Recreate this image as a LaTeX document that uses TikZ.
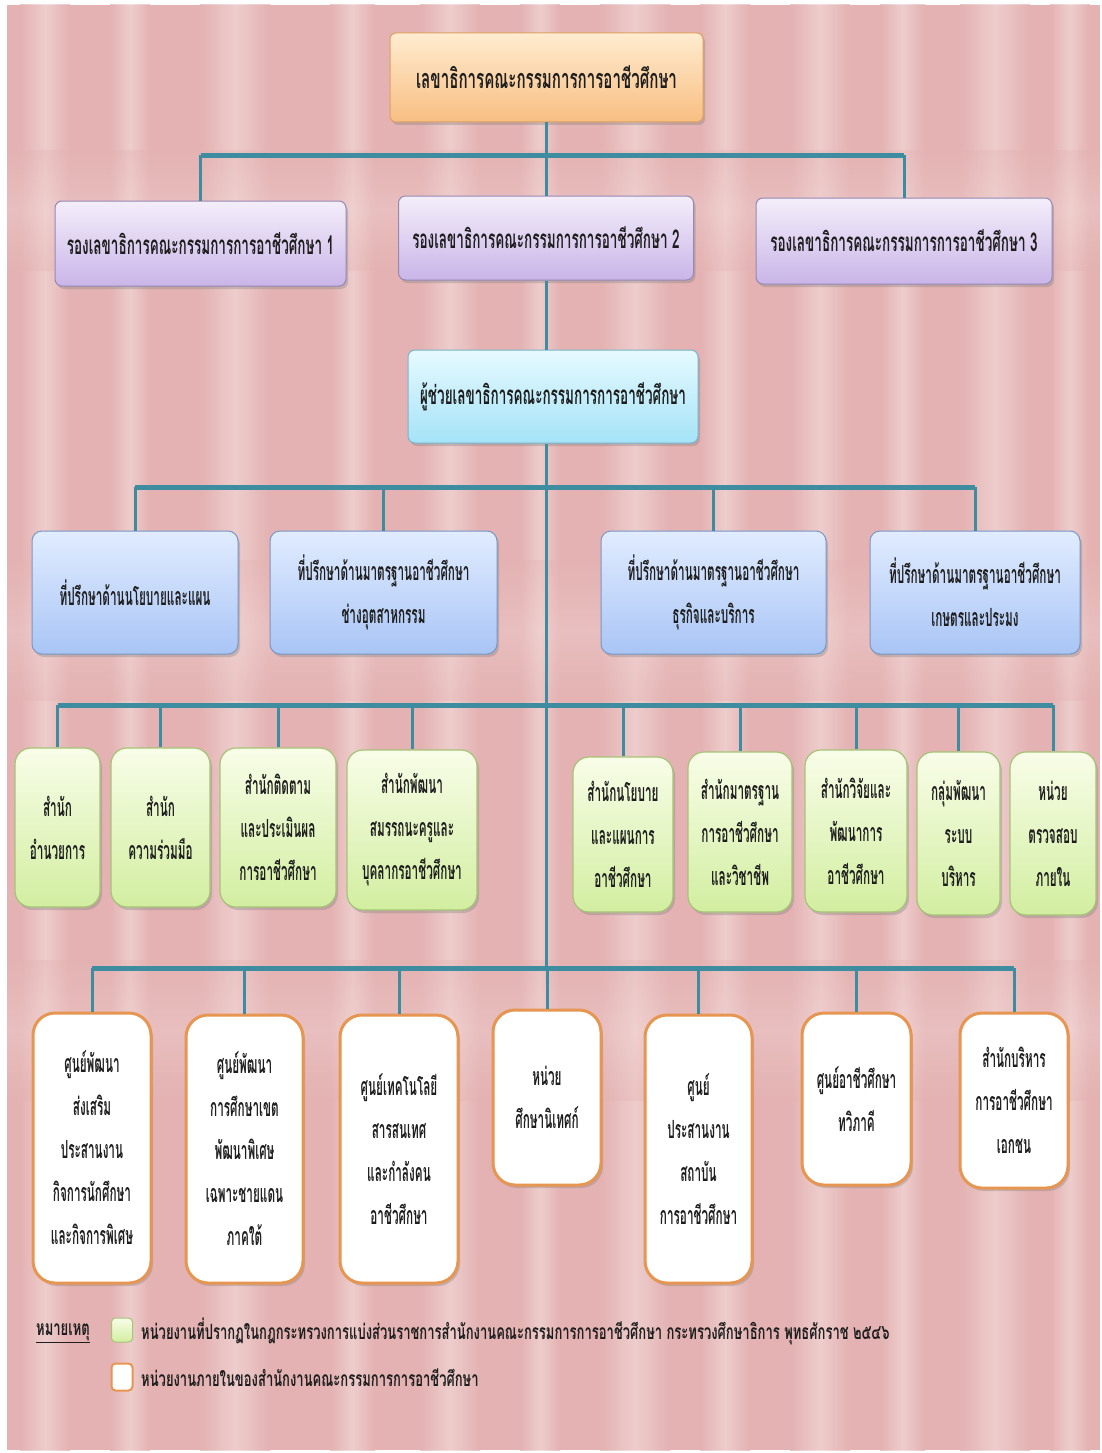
\documentclass[tikz,border=0pt]{standalone}
\usepackage{fontspec}
\newfontfamily\thaiT[Script=Thai,FakeStretch=0.56]{Loma}
\newfontfamily\thaiB[Script=Thai,FakeStretch=0.52]{Loma}
\newfontfamily\thaiD[Script=Thai,FakeStretch=0.47]{Loma}
\newfontfamily\thaiL[Script=Thai,FakeStretch=0.62]{Loma}
\usetikzlibrary{shadows}
\definecolor{bgpink}{RGB}{228,178,178}
\definecolor{bglight}{RGB}{242,214,214}
\definecolor{teal}{RGB}{62,140,160}
\definecolor{orT}{RGB}{255,236,208}
\definecolor{orB}{RGB}{248,190,130}
\definecolor{orD}{RGB}{222,160,96}
\definecolor{puT}{RGB}{244,238,250}
\definecolor{puB}{RGB}{201,181,232}
\definecolor{puD}{RGB}{150,136,180}
\definecolor{cyT}{RGB}{230,250,255}
\definecolor{cyB}{RGB}{165,227,247}
\definecolor{cyD}{RGB}{120,180,206}
\definecolor{blT}{RGB}{225,236,255}
\definecolor{blB}{RGB}{169,197,245}
\definecolor{blD}{RGB}{120,150,200}
\definecolor{grT}{RGB}{248,253,232}
\definecolor{grB}{RGB}{210,238,160}
\definecolor{grD}{RGB}{165,196,118}
\definecolor{fOr}{RGB}{230,150,80}
\definecolor{txt}{RGB}{30,30,30}
\tikzset{
  box/.style={draw, align=center, inner sep=0pt, text=txt,
    font=\thaiD\bfseries\fontsize{25}{43}\selectfont,
    drop shadow={opacity=0.35,shadow xshift=2pt,shadow yshift=-3pt}},
  topbox/.style={box, rounded corners=6pt, top color=orT, bottom color=orB, draw=orD, line width=1pt,
    font=\thaiT\bfseries\fontsize{27}{43}\selectfont},
  pubox/.style={box, rounded corners=7pt, top color=puT, bottom color=puB, draw=puD, line width=1pt,
    font=\thaiB\bfseries\fontsize{26}{43}\selectfont},
  cybox/.style={box, rounded corners=7pt, top color=cyT, bottom color=cyB, draw=cyD, line width=1pt,
    font=\thaiB\bfseries\fontsize{26}{43}\selectfont},
  blbox/.style={box, rounded corners=10pt, top color=blT, bottom color=blB, draw=blD, line width=1pt},
  grbox/.style={box, rounded corners=16pt, top color=grT, bottom color=grB, draw=grD, line width=1.2pt},
  whbox/.style={box, rounded corners=22pt, fill=white, draw=fOr, line width=3pt},
  bus/.style={draw=teal, line width=5pt},
  drop/.style={draw=teal, line width=3pt},
  legtxt/.style={anchor=west, inner sep=0pt, text=txt, font=\thaiL\bfseries\fontsize{21}{24}\selectfont}
}
\begin{document}
\begin{tikzpicture}[x=1pt,y=-1pt]
\useasboundingbox (0,0) rectangle (1102,1453);
\fill[white] (0,0) rectangle (1102,1453);
\fill[bgpink] (7,5) rectangle (1100,1450);
\foreach \x/\w in {20/50,110/40,200/70,330/45,420/60,520/40,600/70,700/50,790/60,880/45,960/70,1050/40}{
  \shade[left color=bgpink, right color=bgpink, middle color=bglight, opacity=0.75] (\x,5) rectangle (\x+\w,1450);
}
\foreach \y/\h in {150/120,560/140,960/140}{
  \shade[top color=bgpink, bottom color=bgpink, middle color=bglight, opacity=0.35] (7,\y) rectangle (1100,\y+\h);
}

% nodes
\node[topbox, minimum width=313pt, minimum height=89pt] (top) at (546.5,77.5) {เลขาธิการคณะกรรมการการอาชีวศึกษา};

\node[pubox, minimum width=291pt, minimum height=85pt] (b1) at (200.5,243.5) {รองเลขาธิการคณะกรรมการการอาชีวศึกษา 1};
\node[pubox, minimum width=295pt, minimum height=84pt] (b2) at (546,238) {รองเลขาธิการคณะกรรมการการอาชีวศึกษา 2};
\node[pubox, minimum width=296pt, minimum height=86pt] (b3) at (904,241) {รองเลขาธิการคณะกรรมการการอาชีวศึกษา 3};

\node[cybox, minimum width=290pt, minimum height=93pt] (c) at (553,396.5) {ผู้ช่วยเลขาธิการคณะกรรมการการอาชีวศึกษา};

\node[blbox, minimum width=206pt, minimum height=123pt] (d1) at (135,592.5) {ที่ปรึกษาด้านนโยบายและแผน};
\node[blbox, minimum width=227pt, minimum height=123pt] (d2) at (383.5,592.5) {ที่ปรึกษาด้านมาตรฐานอาชีวศึกษา\\ช่างอุตสาหกรรม};
\node[blbox, minimum width=225pt, minimum height=123pt] (d3) at (713.5,592.5) {ที่ปรึกษาด้านมาตรฐานอาชีวศึกษา\\ธุรกิจและบริการ};
\node[blbox, minimum width=210pt, minimum height=123pt] (d4) at (975,592.5) {ที่ปรึกษาด้านมาตรฐานอาชีวศึกษา\\เกษตรและประมง};

\node[grbox, minimum width=85pt, minimum height=159pt] (e1) at (57.5,827.5) {สำนัก\\อำนวยการ};
\node[grbox, minimum width=99pt, minimum height=159pt] (e2) at (160.5,827.5) {สำนัก\\ความร่วมมือ};
\node[grbox, minimum width=116pt, minimum height=159pt] (e3) at (278,827.5) {สำนักติดตาม\\และประเมินผล\\การอาชีวศึกษา};
\node[grbox, minimum width=130pt, minimum height=160pt] (e4) at (412,830) {สำนักพัฒนา\\สมรรถนะครูและ\\บุคลากรอาชีวศึกษา};
\node[grbox, minimum width=100pt, minimum height=155pt] (e5) at (623,834.5) {สำนักนโยบาย\\และแผนการ\\อาชีวศึกษา};
\node[grbox, minimum width=104pt, minimum height=160pt] (e6) at (740,832) {สำนักมาตรฐาน\\การอาชีวศึกษา\\และวิชาชีพ};
\node[grbox, minimum width=102pt, minimum height=162pt] (e7) at (856,831) {สำนักวิจัยและ\\พัฒนาการ\\อาชีวศึกษา};
\node[grbox, minimum width=83pt, minimum height=163pt] (e8) at (958.5,833.5) {กลุ่มพัฒนา\\ระบบ\\บริหาร};
\node[grbox, minimum width=86pt, minimum height=163pt] (e9) at (1053,833.5) {หน่วย\\ตรวจสอบ\\ภายใน};

\node[whbox, minimum width=118pt, minimum height=270pt] (f1) at (92,1148) {ศูนย์พัฒนา\\ส่งเสริม\\ประสานงาน\\กิจการนักศึกษา\\และกิจการพิเศษ};
\node[whbox, minimum width=117pt, minimum height=268pt] (f2) at (244.5,1149) {ศูนย์พัฒนา\\การศึกษาเขต\\พัฒนาพิเศษ\\เฉพาะชายแดน\\ภาคใต้};
\node[whbox, minimum width=118pt, minimum height=268pt] (f3) at (399,1149) {ศูนย์เทคโนโลยี\\สารสนเทศ\\และกำลังคน\\อาชีวศึกษา};
\node[whbox, minimum width=108pt, minimum height=175pt] (f4) at (547,1097.5) {หน่วย\\ศึกษานิเทศก์};
\node[whbox, minimum width=107pt, minimum height=268pt] (f5) at (698.5,1149) {ศูนย์\\ประสานงาน\\สถาบัน\\การอาชีวศึกษา};
\node[whbox, minimum width=109pt, minimum height=172pt] (f6) at (856.5,1099) {ศูนย์อาชีวศึกษา\\ทวิภาคี};
\node[whbox, minimum width=108pt, minimum height=175pt] (f7) at (1014,1100.5) {สำนักบริหาร\\การอาชีวศึกษา\\เอกชน};

% bus coordinates
\coordinate (bus1) at (546,155);
\coordinate (bus2) at (546,487);
\coordinate (bus3) at (546,705);
\coordinate (bus4) at (546,968);

% connectors
\draw[drop] (top.south) -- (top.south |- bus1);
\draw[bus] (b1.north |- bus1) -- (b3.north |- bus1);
\draw[drop] (b1.north |- bus1) -- (b1.north);
\draw[drop] (b2.north |- bus1) -- (b2.north);
\draw[drop] (b3.north |- bus1) -- (b3.north);
\draw[drop] (b2.south) -- (b2.south |- c.north);
\draw[drop] (c.south -| b2.south) -- (b2.south |- bus4);
\draw[bus] (d1.north |- bus2) -- (d4.north |- bus2);
\foreach \n in {d1,d2,d3,d4}{ \draw[drop] (\n.north |- bus2) -- (\n.north); }
\draw[bus] (e1.north |- bus3) -- (e9.north |- bus3);
\foreach \n in {e1,e2,e3,e4,e5,e6,e7,e8,e9}{ \draw[drop] (\n.north |- bus3) -- (\n.north); }
\draw[bus] (f1.north |- bus4) -- (f7.north |- bus4);
\foreach \n in {f1,f2,f3,f4,f5,f6,f7}{ \draw[drop] (\n.north |- bus4) -- (\n.north); }

% legend
\node[legtxt] (note) at (36,1333) {\underline{หมายเหตุ}};
\node[draw=grD, line width=1pt, rounded corners=4pt, top color=grT, bottom color=grB, minimum width=21pt, minimum height=24pt, inner sep=0pt] (lg1) at (122,1330) {};
\node[legtxt] (lt1) at (141,1331) {หน่วยงานที่ปรากฏในกฎกระทรวงการแบ่งส่วนราชการสำนักงานคณะกรรมการการอาชีวศึกษา กระทรวงศึกษาธิการ พุทธศักราช ๒๕๔๖};
\node[draw=fOr, line width=2pt, rounded corners=4pt, fill=white, minimum width=21pt, minimum height=27pt, inner sep=0pt] (lg2) at (122,1377) {};
\node[legtxt] (lt2) at (141,1378) {หน่วยงานภายในของสำนักงานคณะกรรมการการอาชีวศึกษา};
\end{tikzpicture}
\end{document}
